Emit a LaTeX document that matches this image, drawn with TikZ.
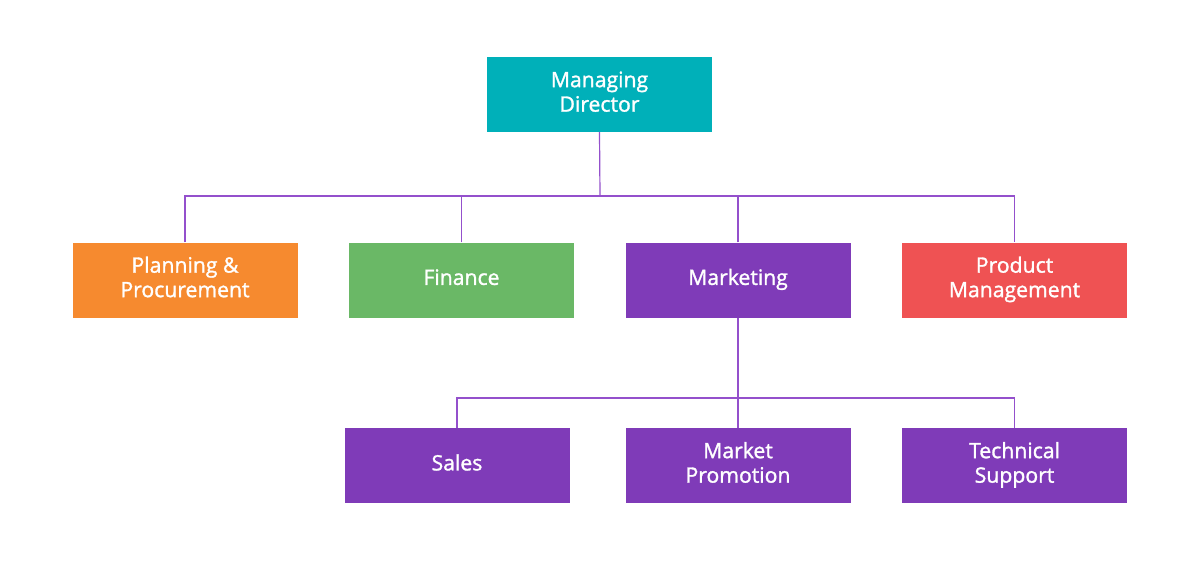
\documentclass[tikz,border=0pt]{standalone}
\usepackage{fontspec}
\setmainfont{Open Sans}
\newfontfamily\boxfont{Open Sans}[FakeBold=1.4]
\newcommand\bxt[1]{\raisebox{1pt}{\begin{tabular}{@{}c@{}}#1\end{tabular}}}
\definecolor{cteal}{HTML}{00B0B9}
\definecolor{corange}{HTML}{F68A2F}
\definecolor{cgreen}{HTML}{6AB866}
\definecolor{cpurple}{HTML}{7F3BB8}
\definecolor{cred}{HTML}{EF5253}
\definecolor{cline}{HTML}{9450CC}
\begin{document}
\begin{tikzpicture}[x=1pt,y=-1pt,
  box/.style={minimum width=225pt,minimum height=75pt,inner sep=0pt,text=white,
    font=\boxfont\fontsize{21.2}{24.5}\selectfont},
  conn/.style={draw=cline,line width=1.2pt}]
\useasboundingbox[fill=white] (0,0) rectangle (1200,584);
\node[box,fill=cteal] (md) at (599.5,94.5) {\bxt{Managing\\Director}};
\node[box,fill=corange] (pp) at (185,280) {\bxt{Planning \&\\Procurement}};
\node[box,fill=cgreen] (fi) at (461.5,280) {\bxt{Finance}};
\node[box,fill=cpurple] (mk) at (738,280) {\bxt{Marketing}};
\node[box,fill=cred] (pm) at (1014.5,280) {\bxt{Product\\Management}};
\node[box,fill=cpurple] (sa) at (457,465.5) {\bxt{Sales}};
\node[box,fill=cpurple] (mp) at (738,465.5) {\bxt{Market\\Promotion}};
\node[box,fill=cpurple] (ts) at (1014.5,465.5) {\bxt{Technical\\Support}};
\coordinate (j1) at (600,196);
\coordinate (j2) at (738,398);
\draw[conn] (md.south) -- (j1);
\draw[conn] (pp.north) |- (j1) -| (pm.north);
\draw[conn] (fi.north) -- (fi.north |- j1);
\draw[conn] (mk.north) -- (mk.north |- j1);
\draw[conn] (mk.south) -- (j2);
\draw[conn] (sa.north) |- (j2) -| (ts.north);
\draw[conn] (mp.north) -- (j2);
\end{tikzpicture}
\end{document}
